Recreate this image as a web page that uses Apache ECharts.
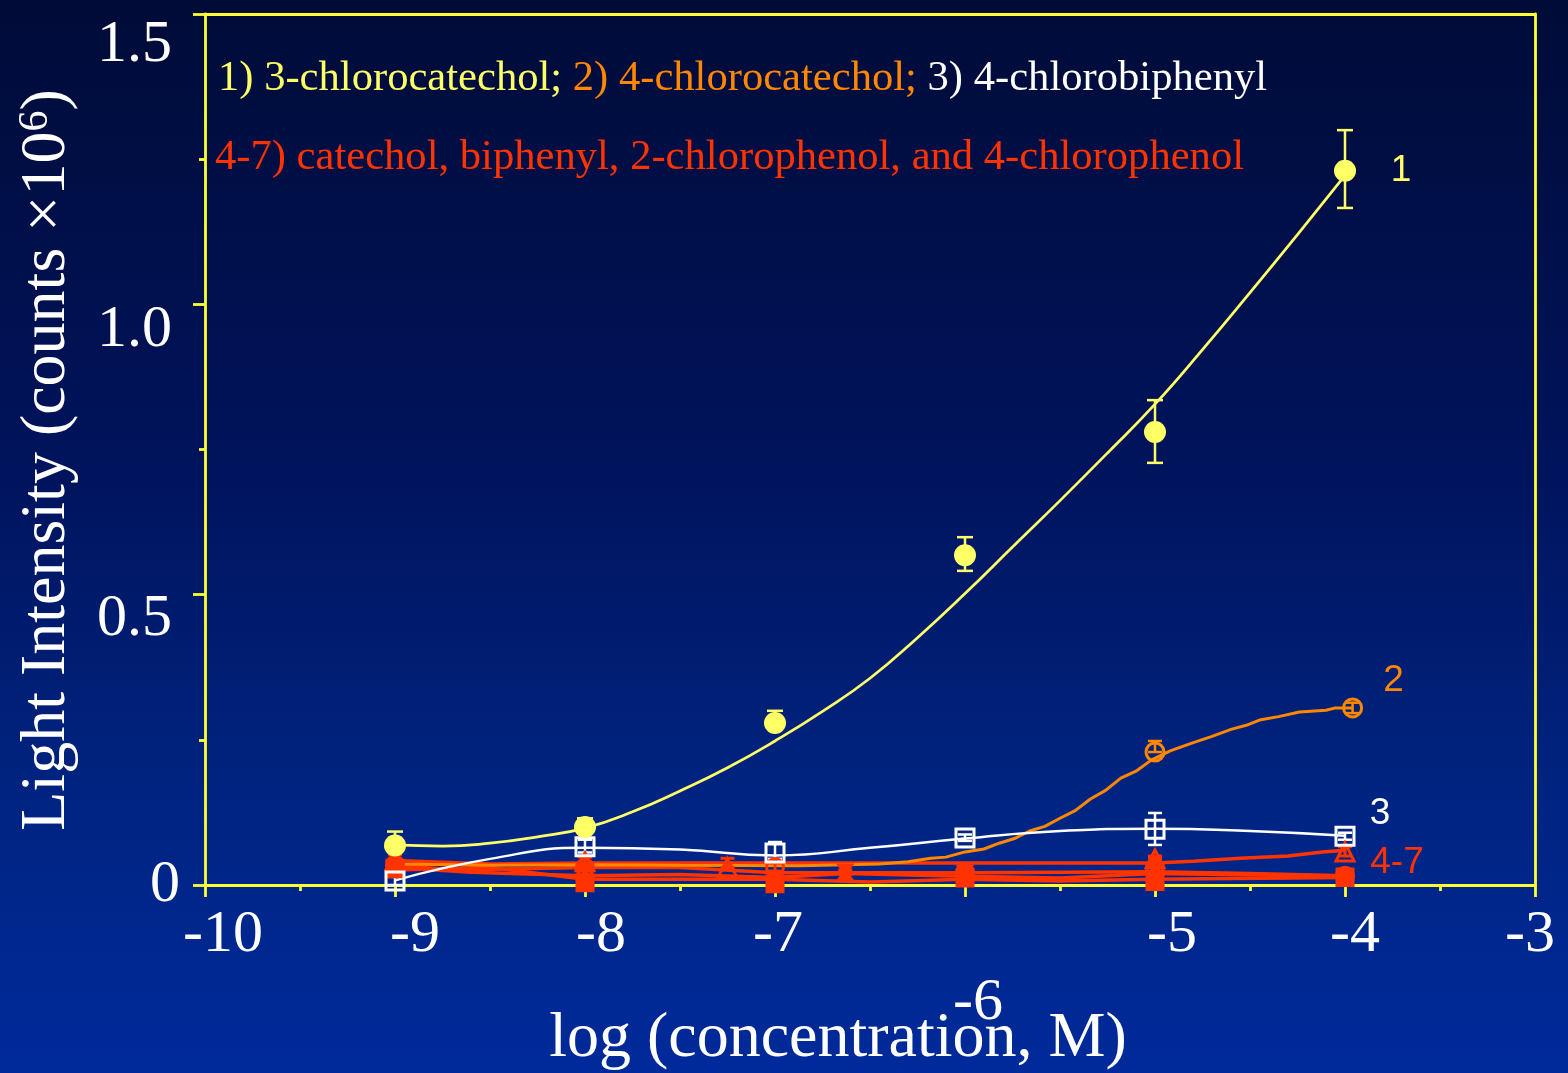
<!DOCTYPE html>
<html>
<head>
<meta charset="utf-8">
<script src="https://cdn.jsdelivr.net/npm/echarts@6/dist/echarts.min.js"></script>
<style>
  html, body { margin: 0; padding: 0; width: 1568px; height: 1073px; overflow: hidden;
    background: linear-gradient(180deg, #000b37 0%, #00145e 45%, #00237f 72%, #002a9b 100%); }
  #chart { width: 1568px; height: 1073px; }
</style>
</head>
<body>
<div id="chart"></div>
<script>
// x: log10 of molar concentration
const xTicks = [-10, -9, -8, -7, -6, -5, -4, -3];
const yTicks = [0, 0.5, 1.0, 1.5];
const concentrations = [-9, -8, -7, -6, -5, -4];

// 1) 3-chlorocatechol: means, error ranges [low, high], fitted curve
const chlorocatechol3 = [0.068, 0.100, 0.279, 0.568, 0.780, 1.230];
const chlorocatechol3Err = [[0.068, 0.092], [0.100, 0.115], [0.279, 0.300], [0.541, 0.599], [0.727, 0.835], [1.166, 1.300]];
const chlorocatechol3Fit = [[-9, 0.069], [-8.75, 0.067], [-8.5, 0.072], [-8.25, 0.083], [-8, 0.098], [-7.75, 0.126],
  [-7.5, 0.162], [-7.25, 0.202], [-7, 0.248], [-6.75, 0.299], [-6.5, 0.356], [-6.25, 0.426], [-6, 0.502],
  [-5.75, 0.582], [-5.5, 0.662], [-5.25, 0.744], [-5, 0.828], [-4.75, 0.922], [-4.5, 1.020], [-4.25, 1.120], [-4, 1.222]];

// 2) 4-chlorocatechol
const chlorocatechol4X = [-5, -3.96];
const chlorocatechol4 = [0.229, 0.305];
const chlorocatechol4Err = [[0.229, 0.248], [0.296, 0.314]];
const chlorocatechol4Trace = [[-9, 0.036], [-8.5, 0.034], [-8, 0.035], [-7.5, 0.034], [-6.87, 0.033], [-6.45, 0.036],
  [-6.3, 0.040], [-6.18, 0.046], [-6.1, 0.048], [-6, 0.057], [-5.9, 0.062], [-5.82, 0.072], [-5.74, 0.080],
  [-5.66, 0.093], [-5.58, 0.101], [-5.5, 0.115], [-5.42, 0.128], [-5.34, 0.148], [-5.26, 0.163], [-5.18, 0.184],
  [-5.1, 0.196], [-5.02, 0.215], [-4.92, 0.231], [-4.81, 0.244], [-4.7, 0.256], [-4.6, 0.268], [-4.52, 0.275],
  [-4.45, 0.284], [-4.35, 0.290], [-4.24, 0.298], [-4.1, 0.301], [-4.05, 0.305], [-3.96, 0.305]];

// 3) 4-chlorobiphenyl
const chlorobiphenyl = [0.007, 0.066, 0.055, 0.081, 0.096, 0.084];
const chlorobiphenylErr = [[0.000, 0.014], [0.056, 0.078], [0.045, 0.074], [0.076, 0.087], [0.069, 0.124], [0.078, 0.090]];
const chlorobiphenylFit = [[-9, 0.008], [-8.5, 0.045], [-8, 0.064], [-7.5, 0.061], [-7, 0.051], [-6.5, 0.064],
  [-6, 0.080], [-5.5, 0.093], [-5, 0.097], [-4.5, 0.093], [-4, 0.085]];

// 4-7) catechol, biphenyl, 2-chlorophenol, 4-chlorophenol
const groupTriangle = [[-9, 0.042], [-8, 0.040], [-7.25, 0.030], [-5, 0.045], [-4, 0.057]];
const groupTriangleErr = [[-9, 0.035, 0.052], [-8, 0.033, 0.048], [-7.25, 0.030, 0.046], [-5, 0.040, 0.050], [-4, 0.050, 0.066]];
const groupTriangleLine = [[-9, 0.042], [-8.5, 0.036], [-8, 0.038], [-7, 0.038], [-6, 0.038], [-5, 0.038],
  [-4.8, 0.041], [-4.55, 0.046], [-4.3, 0.050], [-4.12, 0.057], [-4, 0.060]];
const groupCircle = [[-9, 0.035], [-8, 0.030], [-7, 0.031], [-6, 0.022], [-5, 0.030], [-4, 0.016]];
const groupCircleErr = [[-9, 0.028, 0.042], [-8, 0.024, 0.036], [-7, 0.024, 0.038], [-6, 0.016, 0.028], [-5, 0.024, 0.036], [-4, 0.010, 0.022]];
const groupCircleLine = [[-9, 0.035], [-8.7, 0.026], [-8, 0.030], [-7.5, 0.030], [-7, 0.021], [-6, 0.021],
  [-5, 0.023], [-4.5, 0.020], [-4, 0.016]];
const groupBell = [[-9, 0.030], [-8, 0.022], [-6.63, 0.022], [-6, 0.020], [-5, 0.022], [-4, 0.015]];
const groupBellErr = [[-9, 0.024, 0.036], [-8, 0.016, 0.030], [-6.63, 0.018, 0.026], [-6, 0.015, 0.026], [-5, 0.015, 0.046], [-4, 0.010, 0.020]];
const groupBellLine = [[-9, 0.030], [-8.6, 0.022], [-8, 0.016], [-7.5, 0.018], [-7, 0.013], [-6.63, 0.020],
  [-6, 0.015], [-5.5, 0.012], [-5, 0.020], [-4, 0.015]];
const groupSquare = [[-9, 0.028], [-8, 0.004], [-7, 0.002], [-6, 0.012], [-5, 0.006], [-4, 0.013]];
const groupSquareErr = [[-9, 0.020, 0.036], [-8, 0.000, 0.010], [-7, 0.000, 0.008], [-6, 0.006, 0.018], [-5, 0.000, 0.012], [-4, 0.006, 0.024]];
const groupSquareLine = [[-9, 0.026], [-8.5, 0.030], [-8, 0.010], [-7, 0.010], [-6.5, 0.005], [-6, 0.010],
  [-5.5, 0.007], [-5, 0.010], [-4, 0.013]];

const YELLOW = '#ffff66';
const AXIS = '#ffff33';
const ORANGE = '#ff8800';
const WHITE = '#ffffff';
const RED = '#ff3300';
const SERIF = '"Liberation Serif", "Times New Roman", serif';
const SANS = '"Liberation Sans", Arial, sans-serif';

const pairs = (xs, ys) => xs.map((x, i) => [x, ys[i]]);
const errRows = (xs, rng) => xs.map((x, i) => [x, rng[i][0], rng[i][1]]);

// vertical error bar with caps
function errorBarSeries(rows, color, width, capHalf) {
  return {
    type: 'custom',
    z: 3,
    data: rows,
    silent: true,
    renderItem: (params, api) => {
      const x = api.value(0);
      const lo = api.coord([x, api.value(1)]);
      const hi = api.coord([x, api.value(2)]);
      const st = { stroke: color, lineWidth: width };
      return {
        type: 'group',
        children: [
          { type: 'line', shape: { x1: lo[0], y1: lo[1], x2: hi[0], y2: hi[1] }, style: st },
          { type: 'line', shape: { x1: hi[0] - capHalf, y1: hi[1], x2: hi[0] + capHalf, y2: hi[1] }, style: st },
          { type: 'line', shape: { x1: lo[0] - capHalf, y1: lo[1], x2: lo[0] + capHalf, y2: lo[1] }, style: st }
        ]
      };
    }
  };
}

function curve(data, color, width, smooth) {
  return { type: 'line', data, smooth, symbol: 'none', z: 2, silent: true,
    lineStyle: { color, width, opacity: 1 } };
}

function markers(data, symbol, size, color, filled, lineWidth, tag) {
  const s = {
    type: 'scatter', data, symbol, symbolSize: size, z: 4, silent: true,
    itemStyle: { color: filled ? color : 'rgba(0,0,0,0)', borderColor: color, borderWidth: lineWidth, opacity: 1 }
  };
  if (tag) {
    s.label = {
      show: true, position: 'inside', offset: tag.offset,
      formatter: p => (p.dataIndex === data.length - 1 ? tag.text : ''),
      color: tag.color || color, fontFamily: SANS, fontSize: 37, opacity: 1
    };
  }
  return s;
}

// per-tick label placement
const xLabelShift = { '-10': [18, 0], '-9': [20, 0], '-8': [16, 0], '-7': [3, 0], '-6': [13, 68], '-5': [17, 0], '-4': [10, 0], '-3': [-5, 0] };
const xRich = {};
Object.keys(xLabelShift).forEach((k, i) => {
  const [dx, dy] = xLabelShift[k];
  xRich['x' + i] = { fontFamily: SERIF, fontSize: 60, color: WHITE,
    padding: [dy, dx < 0 ? -2 * dx : 0, 0, dx > 0 ? 2 * dx : 0] };
});
const yRich = {
  y0: { fontFamily: SERIF, fontSize: 60, color: WHITE, padding: [0, 0, 0, 0] },
  y1: { fontFamily: SERIF, fontSize: 60, color: WHITE, padding: [50, 8, 0, 0] },
  y2: { fontFamily: SERIF, fontSize: 60, color: WHITE, padding: [52, 8, 0, 0] },
  y3: { fontFamily: SERIF, fontSize: 60, color: WHITE, padding: [62, 8, 0, 0] }
};
const yText = ['0', '0.5', '1.0', '1.5'];

const chart = echarts.init(document.getElementById('chart'), null, { renderer: 'canvas' });

const axisLineStyle = { color: AXIS, width: 2.8 };
const LEGEND_SIZE = 42.6;

chart.setOption({
  backgroundColor: 'transparent',
  animation: false,
  grid: { left: 205, right: 33, top: 14, bottom: 188 },
  xAxis: [{
    type: 'value', min: -10, max: -3, interval: 1, position: 'bottom',
    axisLine: { show: true, onZero: false, lineStyle: axisLineStyle },
    axisTick: { show: true, length: 12, lineStyle: axisLineStyle },
    minorTick: { show: true, splitNumber: 2, length: 6, lineStyle: axisLineStyle },
    splitLine: { show: false },
    axisLabel: {
      margin: 20,
      formatter: v => {
        const i = xTicks.indexOf(Math.round(v));
        return '{x' + i + '|' + String(Math.round(v)) + '}';
      },
      rich: xRich
    }
  }, {
    type: 'value', min: -10, max: -3, position: 'top',
    axisLine: { show: true, onZero: false, lineStyle: axisLineStyle },
    axisTick: { show: false }, axisLabel: { show: false }, splitLine: { show: false }
  }],
  yAxis: [{
    type: 'value', min: 0, max: 1.5, interval: 0.5, position: 'left',
    axisLine: { show: true, onZero: false, lineStyle: axisLineStyle },
    axisTick: { show: true, length: 12, lineStyle: axisLineStyle },
    minorTick: { show: true, splitNumber: 2, length: 6, lineStyle: axisLineStyle },
    splitLine: { show: false },
    axisLabel: {
      margin: 25,
      formatter: v => {
        const i = yTicks.findIndex(t => Math.abs(t - v) < 1e-6);
        return '{y' + i + '|' + yText[i] + '}';
      },
      rich: yRich
    }
  }, {
    type: 'value', min: 0, max: 1.5, position: 'right',
    axisLine: { show: true, onZero: false, lineStyle: axisLineStyle },
    axisTick: { show: false }, axisLabel: { show: false }, splitLine: { show: false }
  }],
  graphic: [
    {
      type: 'text', x: 218, y: 79,
      style: {
        text: '{a|1) 3-chlorocatechol;} {b|2) 4-chlorocatechol;} {c|3) 4-chlorobiphenyl}',
        verticalAlign: 'middle', align: 'left',
        fontFamily: SERIF, fontSize: LEGEND_SIZE, fill: WHITE,
        rich: {
          a: { fontFamily: SERIF, fontSize: LEGEND_SIZE, fill: YELLOW, color: YELLOW },
          b: { fontFamily: SERIF, fontSize: LEGEND_SIZE, fill: ORANGE, color: ORANGE },
          c: { fontFamily: SERIF, fontSize: LEGEND_SIZE, fill: WHITE, color: WHITE }
        }
      }
    },
    {
      type: 'text', x: 215, y: 158,
      style: {
        text: '4-7) catechol, biphenyl, 2-chlorophenol, and 4-chlorophenol',
        verticalAlign: 'middle', align: 'left',
        fontFamily: SERIF, fontSize: LEGEND_SIZE, fill: RED
      }
    },
    {
      type: 'text', x: 838, y: 1039,
      style: {
        text: 'log (concentration, M)', align: 'center', verticalAlign: 'middle',
        fontFamily: SERIF, fontSize: 64, fill: WHITE
      }
    },
    {
      type: 'text', x: 47, y: 460, rotation: Math.PI / 2,
      style: {
        text: '{t|Light Intensity (counts \u00d710}{s|6}{t|)}', align: 'center', verticalAlign: 'middle',
        fontFamily: SERIF, fontSize: 64, fill: WHITE,
        rich: {
          t: { fontFamily: SERIF, fontSize: 64, fill: WHITE, color: WHITE },
          s: { fontFamily: SERIF, fontSize: 42, fill: WHITE, color: WHITE, verticalAlign: 'top' }
        }
      }
    }
  ],
  series: [
    // fitted / traced curves
    curve(groupSquareLine, RED, 3.5, false),
    curve(groupBellLine, RED, 3.5, false),
    curve(groupCircleLine, RED, 3.5, false),
    curve(groupTriangleLine, RED, 3.5, false),
    curve(chlorocatechol4Trace, ORANGE, 3, false),
    curve(chlorobiphenylFit, WHITE, 2.5, true),
    curve(chlorocatechol3Fit, YELLOW, 2.7, true),

    // error bars
    errorBarSeries(groupSquareErr, RED, 3, 7),
    errorBarSeries(groupBellErr, RED, 3, 7),
    errorBarSeries(groupCircleErr, RED, 3, 7),
    errorBarSeries(groupTriangleErr, RED, 3, 7),
    errorBarSeries(errRows(chlorocatechol4X, chlorocatechol4Err), ORANGE, 2.5, 7),
    errorBarSeries(errRows(concentrations, chlorobiphenylErr), WHITE, 2.5, 7),
    errorBarSeries(errRows(concentrations, chlorocatechol3Err), YELLOW, 2.5, 8),

    // data points
    markers(groupSquare, 'rect', 17, RED, true, 2, { text: '4-7', offset: [52, -15] }),
    markers(groupBell, 'path://M0,0 L10,0 L6,5 L10,10 L0,10 L4,5 Z', 16, RED, true, 1.5),
    markers(groupCircle, 'circle', 17, RED, false, 3),
    markers(groupTriangle, 'triangle', 18, RED, false, 3),
    markers(pairs(chlorocatechol4X, chlorocatechol4), 'circle', 18, ORANGE, false, 3, { text: '2', offset: [41, -27] }),
    markers(pairs(concentrations, chlorobiphenyl), 'rect', 18, WHITE, false, 3, { text: '3', offset: [35, -22] }),
    markers(pairs(concentrations, chlorocatechol3), 'circle', 22, YELLOW, true, 0, { text: '1', offset: [56, 0] })
  ]
});
</script>
</body>
</html>
